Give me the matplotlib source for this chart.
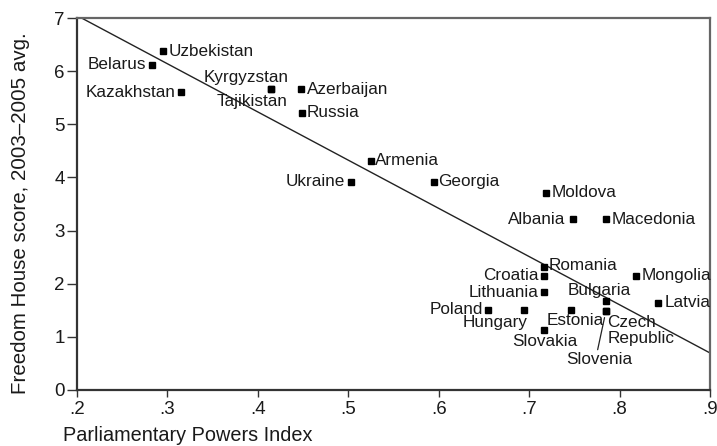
import numpy as np
import matplotlib.pyplot as plt

# data
countries = ['Uzbekistan', 'Belarus', 'Kazakhstan', 'Kyrgyzstan', 'Tajikistan',
             'Azerbaijan', 'Russia', 'Ukraine', 'Armenia', 'Georgia', 'Moldova',
             'Albania', 'Macedonia', 'Romania', 'Croatia', 'Mongolia', 'Lithuania',
             'Bulgaria', 'Latvia', 'Poland', 'Hungary', 'Estonia', 'Czech\nRepublic',
             'Slovakia', 'Slovenia']
ppi = [0.295, 0.283, 0.315, 0.414, 0.414,
       0.448, 0.449, 0.503, 0.525, 0.595, 0.719,
       0.748, 0.785, 0.717, 0.717, 0.818, 0.717,
       0.785, 0.842, 0.655, 0.694, 0.746, 0.785,
       0.716, 0.785]
fh_score = [6.37, 6.12, 5.60, 5.67, 5.67,
            5.66, 5.22, 3.92, 4.31, 3.92, 3.71,
            3.21, 3.21, 2.32, 2.15, 2.15, 1.84,
            1.68, 1.64, 1.51, 1.51, 1.51, 1.49,
            1.13, 1.49]

# fitted line
fit_intercept = 8.86
fit_slope = -9.07

# label placement: (dx, dy) in points, ha, va
label_pos = {
    'Uzbekistan': (4, 0, 'left', 'center'),
    'Belarus': (-4, 0, 'right', 'center'),
    'Kazakhstan': (-4, 0, 'right', 'center'),
    'Kyrgyzstan': (13, 8, 'right', 'center'),
    'Tajikistan': (12, -9, 'right', 'center'),
    'Azerbaijan': (4, 0, 'left', 'center'),
    'Russia': (3, 0, 'left', 'center'),
    'Ukraine': (-4, 0, 'right', 'center'),
    'Armenia': (3, 0, 'left', 'center'),
    'Georgia': (3, 0, 'left', 'center'),
    'Moldova': (4, 0, 'left', 'center'),
    'Albania': (-5, 0, 'right', 'center'),
    'Macedonia': (4, 0, 'left', 'center'),
    'Romania': (3, 1, 'left', 'center'),
    'Croatia': (-4, 0, 'right', 'center'),
    'Mongolia': (4, 0, 'left', 'center'),
    'Lithuania': (-4, 0, 'right', 'center'),
    'Bulgaria': (-5, 7, 'center', 'center'),
    'Latvia': (5, 0, 'left', 'center'),
    'Poland': (-4, 0, 'right', 'center'),
    'Hungary': (3, -9.5, 'right', 'center'),
    'Estonia': (3, -8, 'center', 'center'),
    'Czech\nRepublic': (1, -3, 'left', 'top'),
    'Slovakia': (1, -8.5, 'center', 'center'),
    'Slovenia': (-5, -35, 'center', 'center'),
}

plt.rcParams['font.family'] = ['Liberation Sans', 'DejaVu Sans']

fig = plt.figure(figsize=(7.17, 4.46), dpi=100)
ax = fig.add_axes([0.1074, 0.1256, 0.8828, 0.834])

xs = np.array([0.2, 0.9])
ax.plot(xs, fit_intercept + fit_slope * xs, color='#222222', lw=1.0, zorder=2)

ax.plot(ppi, fh_score, 's', color='black', markersize=4.6, zorder=3)

for name, x, y in zip(countries, ppi, fh_score):
    dx, dy, ha, va = label_pos[name]
    ax.annotate(name, (x, y), xytext=(dx, dy), textcoords='offset points',
                ha=ha, va=va, fontsize=12.3, color='#1a1a1a',
                linespacing=1.05, zorder=4)

# leader line for Slovenia (shares the Czech Republic point)
i_slo = countries.index('Slovenia')
ax.annotate('', (ppi[i_slo], fh_score[i_slo]), xytext=(-6, -28),
            textcoords='offset points',
            arrowprops=dict(arrowstyle='-', color='#222222', lw=0.9,
                            shrinkA=0, shrinkB=5))

ax.set_xlim(0.2, 0.9)
ax.set_ylim(0, 7)
ax.set_xticks([0.2, 0.3, 0.4, 0.5, 0.6, 0.7, 0.8, 0.9])
ax.set_xticklabels(['.2', '.3', '.4', '.5', '.6', '.7', '.8', '.9'])
ax.set_yticks(range(8))

ax.tick_params(axis='y', length=7, width=1.0, pad=2, labelsize=13.5,
               color='#333333', labelcolor='#1a1a1a')
ax.tick_params(axis='x', length=5, width=1.0, pad=3, labelsize=13.5,
               color='#333333', labelcolor='#1a1a1a')

for side in ['left', 'bottom']:
    ax.spines[side].set_color('#333333')
    ax.spines[side].set_linewidth(1.6)
for side in ['top', 'right']:
    ax.spines[side].set_color('#666666')
    ax.spines[side].set_linewidth(1.6)

ax.set_xlabel('Parliamentary Powers Index', fontsize=14.3, color='#1a1a1a')
ax.xaxis.set_label_coords(-0.022, -0.098)
ax.xaxis.label.set_ha('left')
ax.set_ylabel('Freedom House score, 2003\u20132005 avg.', fontsize=14.8,
              color='#1a1a1a')
ax.yaxis.set_label_coords(-0.074, 0.475)

fig.savefig('out.png', dpi=100)
